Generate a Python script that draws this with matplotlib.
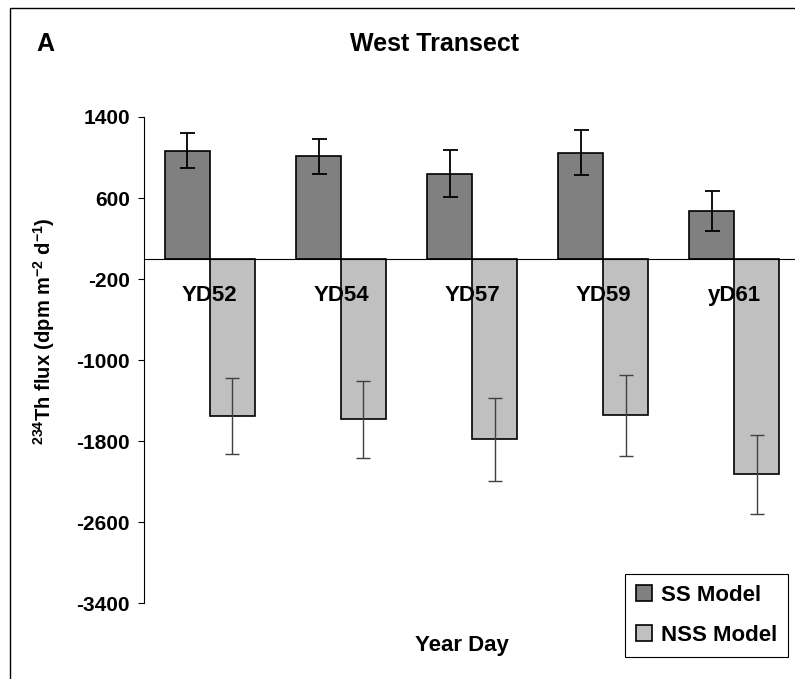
import numpy as np
import matplotlib
matplotlib.use("Agg")
import matplotlib.pyplot as plt
from matplotlib.patches import Patch, Rectangle

plt.rcParams['font.family'] = ['Liberation Sans', 'DejaVu Sans']
plt.rcParams['font.weight'] = 'bold'
plt.rcParams['mathtext.fontset'] = 'custom'
plt.rcParams['mathtext.rm'] = 'Liberation Sans:bold'
plt.rcParams['mathtext.it'] = 'Liberation Sans:bold'
plt.rcParams['mathtext.bf'] = 'Liberation Sans:bold'

# Data
days = ["YD52", "YD54", "YD57", "YD59", "yD61"]
ss_flux = [1068, 1012, 838, 1049, 472]
ss_err = [173, 175, 232, 222, 202]
nss_flux = [-1549, -1585, -1779, -1546, -2125]
nss_err = [375, 383, 410, 403, 390]
yticks = [1400, 600, -200, -1000, -1800, -2600, -3400]

fig = plt.figure(figsize=(7.95, 6.79), dpi=100)
ax = fig.add_axes([0.1815, 0.1115, 0.8248, 0.7162])

x = np.arange(len(days))
w = 0.343

ax.bar(x - w / 2, ss_flux, w, color="#808080", edgecolor="black", linewidth=1.2,
       label="SS Model", zorder=2)
ax.bar(x + w / 2, nss_flux, w, color="#c0c0c0", edgecolor="black", linewidth=1.2,
       label="NSS Model", zorder=2)
ax.errorbar(x - w / 2, ss_flux, yerr=ss_err, fmt="none", ecolor="black",
            elinewidth=1.3, capsize=5.4, capthick=1.3, zorder=4)
ax.errorbar(x + w / 2, nss_flux, yerr=nss_err, fmt="none", ecolor="#404040",
            elinewidth=1.0, capsize=5.0, capthick=1.0, zorder=4)

ax.axhline(0, color="black", linewidth=0.8, zorder=3)

# category labels sit just under the zero line
for i, d in enumerate(days):
    ax.text(i, -363, d, ha="center", va="center", fontsize=16,
            fontweight="bold", zorder=3)

ax.set_xlim(-0.5, 4.5)
ax.set_ylim(-3400, 1400)
ax.set_yticks(yticks)
ax.set_yticklabels([str(v) for v in yticks], fontsize=15, fontweight="bold")
ax.tick_params(axis="y", direction="out", length=4.3, width=0.8, pad=6)
ax.set_xticks([])
for s in ["top", "right", "bottom"]:
    ax.spines[s].set_visible(False)
ax.spines["left"].set_linewidth(0.8)

ax.set_ylabel(r"$^{234}$Th flux (dpm m$^{-2}$ d$^{-1}$)", fontsize=14.5,
              fontweight="bold")
ax.yaxis.set_label_coords(-87 / 655.7, 0.56)

fig.text(434 / 795, 1 - 44 / 679, "West Transect", ha="center", va="center",
         fontsize=18, fontweight="bold")
fig.text(36 / 795, 1 - 44 / 679, "A", ha="left", va="center",
         fontsize=18, fontweight="bold")
fig.text(462 / 795, 1 - 645 / 679, "Year Day", ha="center", va="center",
         fontsize=16, fontweight="bold")

handles = [Patch(facecolor="#808080", edgecolor="black", linewidth=1.2),
           Patch(facecolor="#c0c0c0", edgecolor="black", linewidth=1.2)]
leg = fig.legend(handles, ["SS Model", "NSS Model"], loc="upper left",
                 bbox_to_anchor=(625 / 795, 1 - 574 / 679), fontsize=16,
                 frameon=True, fancybox=False, framealpha=1, edgecolor="black",
                 handlelength=0.72, handleheight=0.72, handletextpad=0.4,
                 labelspacing=0.85, borderpad=0.5, borderaxespad=0)
leg.get_frame().set_linewidth(0.8)
for t in leg.get_texts():
    t.set_fontweight("bold")

# outer frame (cut off at right and bottom)
fig.add_artist(Rectangle((10 / 795, -0.1), 1.2, 1 - 8 / 679 + 0.1,
                         transform=fig.transFigure, fill=False,
                         edgecolor="black", linewidth=1.0))

fig.savefig("out.png", dpi=100)
